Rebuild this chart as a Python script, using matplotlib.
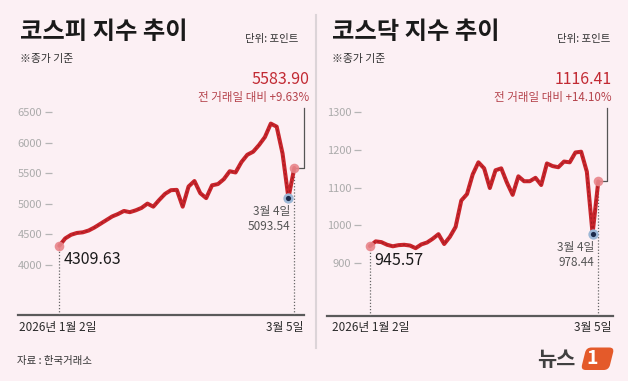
import matplotlib
matplotlib.use("Agg")
import matplotlib.pyplot as plt
from matplotlib.patches import FancyBboxPatch
from matplotlib.transforms import Affine2D

plt.rcParams['font.family'] = ['Noto Sans CJK KR', 'DejaVu Sans']

# ---- data ----
kospi = [4309.63, 4430, 4490, 4520, 4530, 4560, 4610, 4670, 4730, 4790,
         4830, 4880, 4860, 4890, 4930, 5000, 4950, 5060, 5160, 5220,
         5225, 4950, 5280, 5370, 5170, 5090, 5300, 5320, 5400, 5530,
         5510, 5680, 5800, 5850, 5960, 6090, 6310, 6260, 5820, 5093.54,
         5583.90]
kosdaq = [945.57, 958, 956, 949, 945, 948, 949, 947, 940, 950,
          955, 965, 977, 951, 970, 996, 1066, 1083, 1135, 1167,
          1151, 1099, 1146, 1151, 1113, 1081, 1130, 1117, 1117, 1126,
          1107, 1164, 1157, 1154, 1169, 1167, 1193, 1195, 1142, 978.44,
          1116.41]
kospi_ticks = [4000, 4500, 5000, 5500, 6000, 6500]
kosdaq_ticks = [900, 1000, 1100, 1200, 1300]
date_labels = ['2026년 1월 2일', '3월 5일']
low_date = '3월 4일'
titles = ['코스피 지수 추이', '코스닥 지수 추이']
changes = ['+9.63%', '+14.10%']

W, H = 628, 381
BG = '#fcf0f4'
RED = '#c9252c'

fig = plt.figure(figsize=(W / 100, H / 100), dpi=100, facecolor=BG)


def ftext(x, y, s, **kw):
    """text placed in reference pixel coordinates"""
    return fig.text(x / W, 1 - y / H, s, **kw)


def panel(box, xlim, ylim, ticks, values, base_left, leader_dx, leader_top):
    l, t, r, b = box
    ax = fig.add_axes([l / W, 1 - b / H, (r - l) / W, (b - t) / H])
    ax.set_xlim(*xlim)
    ax.set_ylim(*ylim)
    ax.patch.set_visible(False)
    for s in ax.spines.values():
        s.set_visible(False)
    ax.set_xticks([])
    ax.set_yticks(ticks)
    ax.tick_params(axis='y', length=5, width=0.9, color='#b5b5b5',
                   labelcolor='#ababab', labelsize=8, pad=1.5)
    ax.axhline(ylim[0], xmin=(base_left - l) / (r - l), xmax=1,
               color='#5a5a5a', lw=1.6, clip_on=False)

    n = len(values) - 1
    x = list(range(len(values)))
    ax.vlines([0, n], ylim[0], [values[0], values[n]], colors='#666666',
              linestyles=(0, (1, 1.5)), lw=0.9)
    ax.plot([n, n + leader_dx, n + leader_dx], [values[n], values[n], leader_top],
            color='#555555', lw=0.9, clip_on=False)
    ax.plot(x, values, color=RED, lw=2.9, solid_joinstyle='round',
            solid_capstyle='round', zorder=3)
    ax.plot(x, values, color='#7d1414', lw=0.8, ls=(0, (2, 2)), alpha=0.5, zorder=4)
    ax.scatter([0, n], [values[0], values[n]], s=48, color='#e8858a',
               alpha=0.9, zorder=5, lw=0)
    ax.scatter([n - 1], [values[n - 1]], s=55, color='#9db8d6', zorder=5, lw=0)
    ax.scatter([n - 1], [values[n - 1]], s=14, color='#1c2a4a', zorder=6, lw=0)

    # start / low labels
    ax.annotate(f'{values[0]:.2f}', (0, values[0]), xytext=(4, -14),
                textcoords='offset pixels', ha='left', va='center',
                fontsize=11.5, color='#1a1a1a')
    ax.annotate(low_date, (n - 1, values[n - 1]), xytext=(2, -14),
                textcoords='offset pixels', ha='right', va='center',
                fontsize=8.5, color='#555555')
    ax.annotate(f'{values[n - 1]:.2f}', (n - 1, values[n - 1]), xytext=(2, -29),
                textcoords='offset pixels', ha='right', va='center',
                fontsize=8.5, color='#555555')
    return ax


# left panel: KOSPI
panel((51.5, 80, 304, 315), (-1.33, 41.65), (3176.5, 7023.9), kospi_ticks,
      kospi, 18, 1.57, 6565)
# right panel: KOSDAQ
panel((360.5, 80, 613, 316), (-1.66, 42.58), (760.7, 1384.6), kosdaq_ticks,
      kosdaq, 327, 1.61, 1310.6)

for i, x0 in enumerate([20, 332]):
    xr = [298, 610][i]
    xe = [309, 612][i]
    vals = [kospi, kosdaq][i]
    ftext(x0, 32, titles[i], fontsize=17.5, fontweight='bold', color='#1a1a1a',
          ha='left', va='center')
    ftext(x0, 59, '※종가 기준', fontsize=7.8, color='#333333', ha='left', va='center')
    ftext(xr, 39, '단위: 포인트', fontsize=7.5, color='#333333', ha='right', va='center')
    ftext(xe, 80, f'{vals[-1]:.2f}', fontsize=11.5, color='#c22a33',
          ha='right', va='center')
    ftext(xe, 98, f'전 거래일 대비 {changes[i]}', fontsize=8.3, color='#b5434c',
          ha='right', va='center')
    ftext([19, 332][i], 328, date_labels[0], fontsize=8.5, color='#2a2a2a',
          ha='left', va='center')
    ftext([303, 611][i], 328, date_labels[1], fontsize=8.5, color='#2a2a2a',
          ha='right', va='center')

ftext(17, 361, '자료 : 한국거래소', fontsize=7.5, color='#333333', ha='left', va='center')

# divider between panels
fig.add_artist(plt.Line2D([316 / W, 316 / W], [1 - 15 / H, 1 - 348 / H],
                          transform=fig.transFigure, color='#dcd4d8', lw=1.5))

# news1 logo
ftext(556, 360, '뉴스', fontsize=15, fontweight='black', color='#404040',
      ha='center', va='center')
logo = FancyBboxPatch((5.78, 0.11), 0.28, 0.225,
                      boxstyle='round,pad=0,rounding_size=0.05',
                      transform=Affine2D().skew_deg(14, 0) + fig.dpi_scale_trans,
                      facecolor='#e45a2a', edgecolor='none')
fig.add_artist(logo)
ftext(592, 359, '1', fontsize=14, fontweight='bold', style='italic',
      color='white', ha='center', va='center')

fig.savefig('out.png', dpi=100, facecolor=BG)
